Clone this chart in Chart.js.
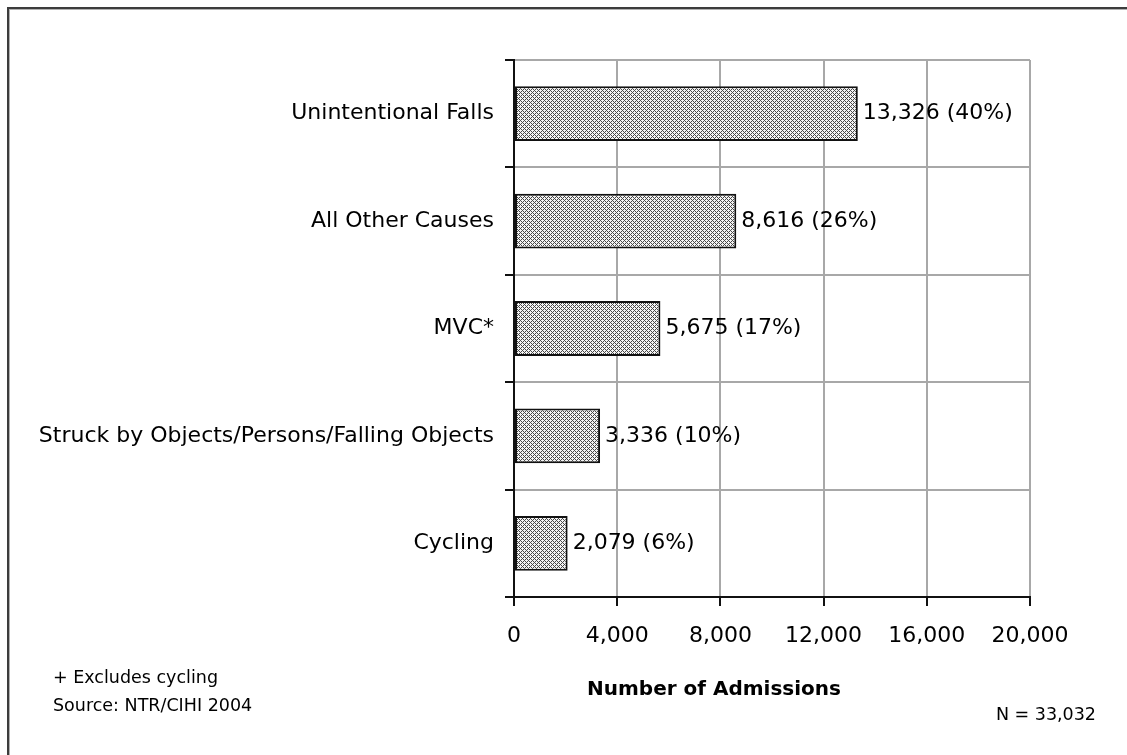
<!DOCTYPE html>
<html>
<head>
<meta charset="utf-8">
<script src="https://cdn.jsdelivr.net/npm/chart.js@4"></script>
<style>
  body { margin: 0; background: #fff; overflow: hidden; }
  #wrap { position: relative; width: 1127px; height: 755px; }
  #frame {
    position: absolute; left: 7px; top: 7px; right: -10px; bottom: -10px;
    border-left: 2px solid #3c3c3c; border-top: 2px solid #3c3c3c;
    box-shadow: inset 1px 1px 0 #b0b0b0;
    pointer-events: none;
  }
  canvas { position: absolute; left: 0; top: 0; }
</style>
</head>
<body>
<div id="wrap">
  <canvas id="chart" width="1127" height="755"></canvas>
  <div id="frame"></div>
</div>
<script>
// data
const causes = ["Unintentional Falls", "All Other Causes", "MVC*", "Struck by Objects/Persons/Falling Objects", "Cycling"];
const admissions = [13326, 8616, 5675, 3336, 2079];
const percents = [40, 26, 17, 10, 6];
const xTicks = [0, 4000, 8000, 12000, 16000, 20000];
const notes = ["+ Excludes cycling", "Source: NTR/CIHI 2004"];
const axisTitle = "Number of Admissions";
const totalNote = "N = 33,032";

const FONT = "DejaVu Sans";

// crosshatch fill like the old excel pattern
function makePattern() {
  const tile = document.createElement("canvas");
  tile.width = 4; tile.height = 4;
  const t = tile.getContext("2d");
  t.fillStyle = "#f4f4f4";
  t.fillRect(0, 0, 4, 4);
  t.fillStyle = "#484848";
  for (let x = 0; x < 4; x++) {
    for (let y = 0; y < 4; y++) {
      if ((x + y) % 4 === 0 || (x - y + 4) % 4 === 0) t.fillRect(x, y, 1, 1);
    }
  }
  return document.createElement("canvas").getContext("2d").createPattern(tile, "repeat");
}

const fmt = v => v.toLocaleString("en-US");

// value labels + footnotes
const annotations = {
  id: "annotations",
  afterDraw(chart) {
    const ctx = chart.ctx;
    const meta = chart.getDatasetMeta(0);
    ctx.save();
    ctx.fillStyle = "#000";
    ctx.textBaseline = "middle";
    ctx.textAlign = "left";
    ctx.font = "22px '" + FONT + "'";
    meta.data.forEach((bar, i) => {
      ctx.fillText(fmt(admissions[i]) + " (" + percents[i] + "%)", bar.x + 5, bar.y);
    });

    ctx.font = "17.5px '" + FONT + "'";
    ctx.fillText(notes[0], 53, 678);
    ctx.fillText(notes[1], 53, 706);

    ctx.textAlign = "right";
    ctx.fillText(totalNote, 1096, 715);

    ctx.textAlign = "center";
    ctx.font = "bold 20px '" + FONT + "'";
    ctx.fillText(axisTitle, 714, 690);
    ctx.restore();
  }
};

new Chart(document.getElementById("chart"), {
  type: "bar",
  data: {
    labels: causes,
    datasets: [{
      data: admissions,
      backgroundColor: makePattern(),
      borderColor: "#111",
      borderWidth: 2,
      borderSkipped: false,
      categoryPercentage: 1,
      barPercentage: 0.51
    }]
  },
  options: {
    indexAxis: "y",
    responsive: false,
    animation: false,
    devicePixelRatio: 1,
    layout: { padding: { top: 60, right: 97, left: 0, bottom: 0 } },
    plugins: { legend: { display: false }, tooltip: { enabled: false } },
    scales: {
      x: {
        min: 0,
        max: 20000,
        afterBuildTicks: axis => { axis.ticks = xTicks.map(v => ({ value: v })); },
        afterFit: axis => { axis.height = 158; },
        ticks: { color: "#000", font: { family: FONT, size: 22 }, padding: 17, callback: v => fmt(v), maxRotation: 0 },
        grid: { color: "#a8a8a8", lineWidth: 2, tickLength: 9, tickColor: "#111", tickWidth: 2 },
        border: { color: "#111", width: 2 }
      },
      y: {
        afterFit: axis => { axis.width = 514; },
        ticks: { color: "#000", font: { family: FONT, size: 22 }, padding: 11 },
        grid: { offset: true, color: "#a8a8a8", lineWidth: 2, tickLength: 9, tickColor: "#111", tickWidth: 2 },
        border: { color: "#111", width: 2 }
      }
    }
  },
  plugins: [annotations]
});
</script>
</body>
</html>
